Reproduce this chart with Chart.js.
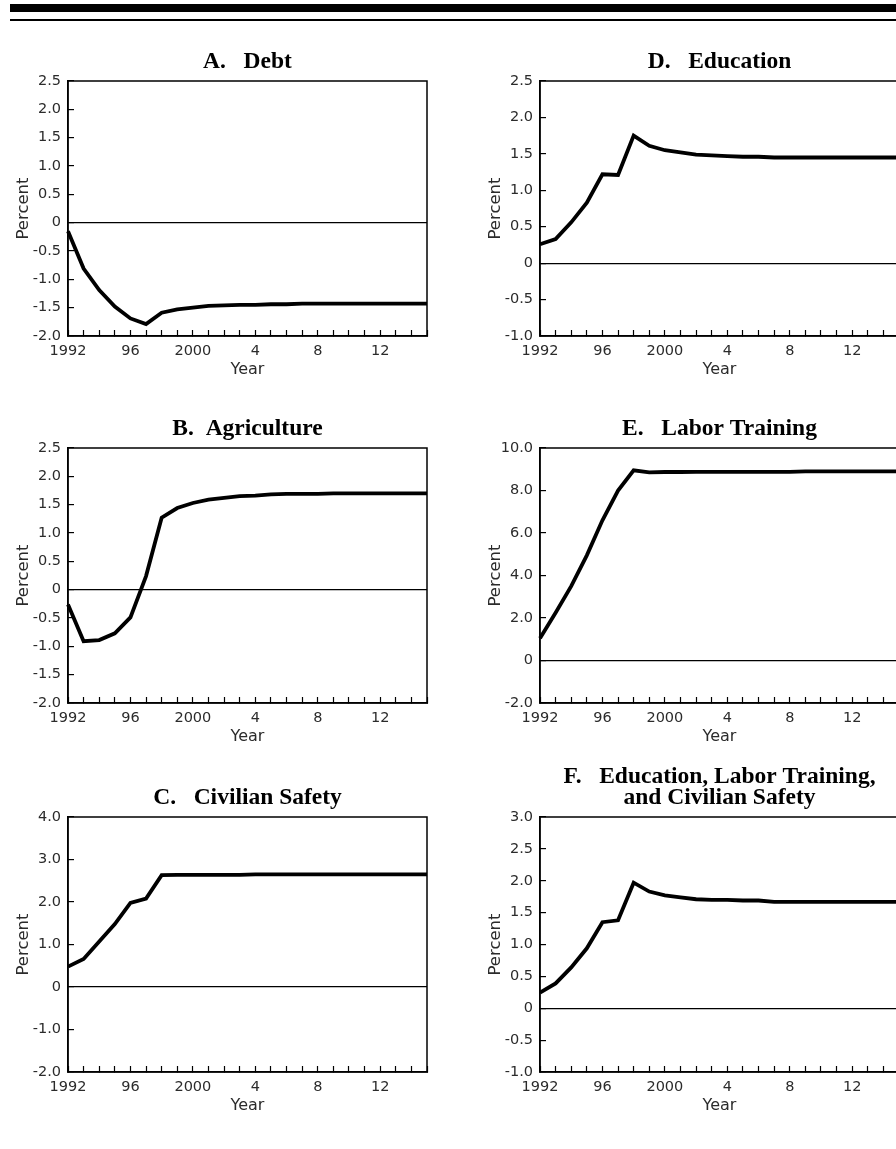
<!DOCTYPE html>
<html>
<head>
<meta charset="utf-8">
<script src="https://cdn.jsdelivr.net/npm/chart.js@4.4.1/dist/chart.umd.min.js"></script>
<style>
  html, body { margin: 0; padding: 0; background: #fff; overflow: hidden; }
  body { width: 896px; height: 1149px; position: relative; }
  .rule-thick { position: absolute; left: 10px; top: 4px; width: 886px; height: 8px; background: #000; }
  .rule-thin { position: absolute; left: 10px; top: 19px; width: 886px; height: 2px; background: #000; }
  canvas { position: absolute; }
</style>
</head>
<body>
<div class="rule-thick"></div>
<div class="rule-thin"></div>
<canvas id="chart-a"></canvas>
<canvas id="chart-b"></canvas>
<canvas id="chart-c"></canvas>
<canvas id="chart-d"></canvas>
<canvas id="chart-e"></canvas>
<canvas id="chart-f"></canvas>
<script>
// Years on the horizontal axis
const years = [1992, 1993, 1994, 1995, 1996, 1997, 1998, 1999, 2000, 2001, 2002, 2003,
               2004, 2005, 2006, 2007, 2008, 2009, 2010, 2011, 2012, 2013, 2014, 2015];
const tickYears = [1992, 1996, 2000, 2004, 2008, 2012];
const tickTexts = ["1992", "96", "2000", "4", "8", "12"];

// Series, percent
const debt = [-0.15, -0.81, -1.19, -1.48, -1.69, -1.79, -1.59, -1.53, -1.50, -1.47, -1.46, -1.45,
              -1.45, -1.44, -1.44, -1.43, -1.43, -1.43, -1.43, -1.43, -1.43, -1.43, -1.43, -1.43];
const agriculture = [-0.26, -0.91, -0.89, -0.77, -0.49, 0.24, 1.27, 1.44, 1.53, 1.59, 1.62, 1.65,
                     1.66, 1.68, 1.69, 1.69, 1.69, 1.70, 1.70, 1.70, 1.70, 1.70, 1.70, 1.70];
const civilianSafety = [0.48, 0.66, 1.07, 1.48, 1.98, 2.08, 2.63, 2.64, 2.64, 2.64, 2.64, 2.64,
                        2.65, 2.65, 2.65, 2.65, 2.65, 2.65, 2.65, 2.65, 2.65, 2.65, 2.65, 2.65];
const education = [0.26, 0.33, 0.56, 0.83, 1.22, 1.21, 1.75, 1.61, 1.55, 1.52, 1.49, 1.48,
                   1.47, 1.46, 1.46, 1.45, 1.45, 1.45, 1.45, 1.45, 1.45, 1.45, 1.45, 1.45];
const laborTraining = [1.05, 2.25, 3.5, 4.95, 6.6, 8.0, 8.95, 8.85, 8.87, 8.87, 8.88, 8.88,
                       8.88, 8.88, 8.88, 8.88, 8.88, 8.90, 8.90, 8.90, 8.90, 8.90, 8.90, 8.90];
const combined = [0.245, 0.39, 0.64, 0.94, 1.35, 1.38, 1.97, 1.83, 1.77, 1.74, 1.71, 1.70,
                  1.70, 1.69, 1.69, 1.67, 1.67, 1.67, 1.67, 1.67, 1.67, 1.67, 1.67, 1.67];

// Titles and y ranges (min, max, step)
const titles = ["A.   Debt", "B.  Agriculture", "C.   Civilian Safety",
                "D.   Education", "E.   Labor Training",
                ["F.   Education, Labor Training,", "and Civilian Safety"]];
const yMins = [-2, -2, -2, -1, -2, -1];
const yMaxs = [2.5, 2.5, 4, 2.5, 10, 3];
const ySteps = [0.5, 0.5, 1, 0.5, 2, 0.5];

// Layout of the page
const ids = ["chart-a", "chart-b", "chart-c", "chart-d", "chart-e", "chart-f"];
const seriesList = [debt, agriculture, civilianSafety, education, laborTraining, combined];
const colLeft = [0, 0, 0, 472, 472, 472];
const plotTop = [81, 448, 817, 81, 448, 817];
const PLOT_H = 255;
const AXIS_W = 68;
const XAXIS_H = 45;
const CANVAS_W = 440;

const tickFont = { family: "DejaVu Sans", size: 14.5 };
const textGray = "#2b2b2b";

// Box round the plot area
const framePlugin = {
    id: "frame",
    afterDatasetsDraw(chart) {
        const { ctx, chartArea: a } = chart;
        ctx.save();
        ctx.strokeStyle = "#000";
        ctx.lineWidth = 1.5;
        ctx.strokeRect(a.left, a.top, a.right - a.left, a.bottom - a.top);
        ctx.restore();
    }
};

function makePanel(i) {
    const canvas = document.getElementById(ids[i]);
    const lines = Array.isArray(titles[i]) ? titles[i].length : 1;
    const titleSpace = 4 + 21 * lines + 9;
    const h = titleSpace + PLOT_H + XAXIS_H + 5;
    canvas.width = CANVAS_W;
    canvas.height = h;
    canvas.style.left = colLeft[i] + "px";
    canvas.style.top = (plotTop[i] - titleSpace) + "px";

    new Chart(canvas, {
        type: "line",
        data: {
            labels: years,
            datasets: [{
                data: seriesList[i],
                borderColor: "#000",
                borderWidth: 3.8,
                pointRadius: 0,
                tension: 0
            }]
        },
        options: {
            responsive: false,
            animation: false,
            layout: { padding: { left: 0, right: 4, top: 0, bottom: 5 } },
            plugins: {
                legend: { display: false },
                tooltip: { enabled: false },
                title: {
                    display: true,
                    text: titles[i],
                    fullSize: false,
                    color: "#000",
                    font: { family: "Liberation Serif", size: 23.5, weight: "bold", lineHeight: "21px" },
                    padding: { top: 4, bottom: 9 }
                }
            },
            scales: {
                x: {
                    type: "category",
                    grid: { drawOnChartArea: false, tickLength: -6, tickColor: "#000", tickWidth: 1.2 },
                    border: { color: "#000", width: 1.5 },
                    ticks: {
                        autoSkip: false,
                        maxRotation: 0,
                        padding: 13,
                        color: textGray,
                        font: tickFont,
                        callback(v) {
                            const k = tickYears.indexOf(Number(this.getLabelForValue(v)));
                            return k < 0 ? "" : tickTexts[k];
                        }
                    },
                    title: {
                        display: true,
                        text: "Year",
                        color: textGray,
                        font: { family: "DejaVu Sans", size: 16 },
                        padding: { top: 0, bottom: 2 }
                    },
                    afterFit(s) { s.height = XAXIS_H; }
                },
                y: {
                    min: yMins[i],
                    max: yMaxs[i],
                    grid: {
                        color: c => (c.tick && Math.abs(c.tick.value) < 1e-9) ? "#000" : "rgba(0,0,0,0)",
                        lineWidth: 1.2,
                        tickLength: -6,
                        tickColor: "#000",
                        tickWidth: 1.2
                    },
                    border: { color: "#000", width: 1.5 },
                    ticks: {
                        stepSize: ySteps[i],
                        padding: 13,
                        color: textGray,
                        font: tickFont,
                        callback: v => Math.abs(v) < 1e-9 ? "0" : Number(v).toFixed(1)
                    },
                    title: {
                        display: true,
                        text: "Percent",
                        color: textGray,
                        font: { family: "DejaVu Sans", size: 16.5 },
                        padding: { top: 14, bottom: 0 }
                    },
                    afterFit(s) { s.width = AXIS_W; }
                }
            }
        },
        plugins: [framePlugin]
    });
}

window.onload = () => {
    for (let i = 0; i < ids.length; i++) makePanel(i);
};
</script>
</body>
</html>
